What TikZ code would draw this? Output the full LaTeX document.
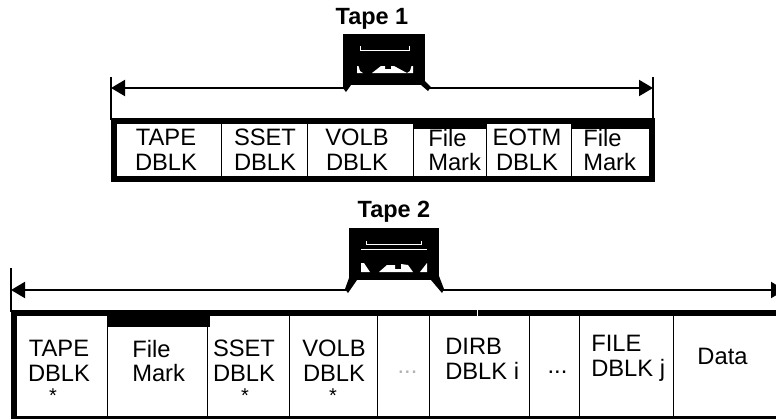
\documentclass[tikz,border=0pt]{standalone}
\usepackage{fontspec}
\setmainfont{Liberation Sans}
\usetikzlibrary{arrows.meta}
\tikzset{
  px/.style={x=0.75pt,y=-0.75pt},
  lab/.style={inner sep=0pt,align=center,font=\fontsize{17.8}{18.5}\selectfont},
  labl/.style={lab,align=left,anchor=west},
  ttl/.style={inner sep=0pt,font=\fontsize{17.6}{18}\selectfont\bfseries},
  star/.style={inner sep=0pt,font=\fontsize{15}{16}\selectfont},
  conn/.style={line width=1.5pt,-{Triangle[width=12pt,length=10.5pt]},shorten >=0pt},
  tick/.style={line width=1.5pt},
  ink/.style={fill=black,draw=none},
  paper/.style={fill=white,draw=none},
  slit/.style={draw=white,line width=0.9pt}
}
\begin{document}
\begin{tikzpicture}[px]
\useasboundingbox (0,0) rectangle (776,419);
\fill[white] (0,0) rectangle (776,419);
% ---------- Tape 1 ----------
\node[ttl] (t1) at (372,19) {Tape 1};
\fill[ink] (343,34) rectangle (425,85);
\fill[ink] (343,83) -- (351,85) -- (346,92) -- (343,88) -- cycle;
\fill[ink] (421,85) -- (425,81) -- (431,87) -- (428,91) -- cycle;
\draw[slit] (360.5,46) -- (360.5,50.5) -- (409.5,50.5) -- (409.5,46);
\fill[paper] (357,66) -- (358.5,66) -- (360,71) -- (363,73) -- (357,73) -- cycle;
\fill[paper] (372,73) -- (381,66) -- (385,66) -- (385,69) -- (391,69) -- (391,66) -- (394,66) -- (407,73) -- cycle;
\fill[paper] (413,66) -- (411.5,66) -- (410,71) -- (407,73) -- (413,73) -- cycle;
\coordinate (a1L) at (111,88);
\coordinate (a1R) at (653,88);
\coordinate (f1L) at (346,88);
\coordinate (f1R) at (428,88);
\draw[tick] (111,77) -- (111,120);
\draw[tick] (653,77) -- (653,120);
\draw[conn] (f1L) -- (a1L);
\draw[conn] (f1R) -- (a1R);
\fill[ink] (111,118) rectangle (655,182);
\fill[paper] (117,124) rectangle (220.5,176);
\fill[paper] (222,124) rectangle (306.5,176);
\fill[paper] (308,124) rectangle (412.5,176);
\fill[paper] (414,124) rectangle (485.5,176);
\fill[paper] (487,124) rectangle (570.5,176);
\fill[paper] (572,124) rectangle (649,176);
\node[lab] (c11) at (166,150) {TAPE\\DBLK};
\node[lab] (c12) at (265,150) {SSET\\DBLK};
\node[lab] (c13) at (357,150) {VOLB\\DBLK};
\node[labl] (c14) at (428,150) {File\\Mark};
\node[lab] (c15) at (527,150) {EOTM\\DBLK};
\node[labl] (c16) at (583,150) {File\\Mark};
\fill[ink] (413,118) rectangle (486,129);
\fill[ink] (571,118) rectangle (655,129);
% ---------- Tape 2 ----------
\node[ttl] (t2) at (394,212) {Tape 2};
\fill[ink] (349,228) rectangle (439,280);
\fill[ink] (349,278) -- (357,280) -- (348,293) -- (345,289) -- cycle;
\fill[ink] (431,280) -- (439,276) -- (444,289) -- (442,293) -- cycle;
\draw[slit] (366.5,241) -- (366.5,244.5) -- (421.5,244.5) -- (421.5,241);
\draw[slit] (361,249.5) -- (427,249.5);
\fill[paper] (361,263) -- (364,263) -- (370,272) -- (361,272) -- cycle;
\fill[paper] (379,272) -- (387,265) -- (395,265) -- (395,269) -- (401,269) -- (401,264) -- (408,265) -- (413,272) -- cycle;
\fill[paper] (427,263) -- (427,272) -- (420,272) -- cycle;
\coordinate (a2L) at (11,290);
\coordinate (a2R) at (785,290);
\coordinate (f2L) at (347,290);
\coordinate (f2R) at (443,290);
\draw[tick] (11,268) -- (11,312);
\draw[conn] (f2L) -- (a2L);
\draw[conn] (f2R) -- (a2R);
\fill[ink] (11,310) rectangle (776,419);
\fill[paper] (17,316) rectangle (106.5,416);
\fill[paper] (108,316) rectangle (206.5,416);
\fill[paper] (208,316) rectangle (288.5,416);
\fill[paper] (290,316) rectangle (376.5,416);
\fill[paper] (378,316) rectangle (428.5,416);
\fill[paper] (430,316) rectangle (528.5,416);
\fill[paper] (530,316) rectangle (578.5,416);
\fill[paper] (580,316) rectangle (672.5,416);
\fill[paper] (674,316) rectangle (776,416);
\fill[paper] (476.5,310) rectangle (478,316);
\fill[ink] (107,310) rectangle (210,327);
\node[lab] (c21) at (59,361) {TAPE\\DBLK};
\node[labl] (c22) at (132,361) {File\\Mark};
\node[lab] (c23) at (244,361) {SSET\\DBLK};
\node[lab] (c24) at (334,361) {VOLB\\DBLK};
\node[lab,text=black!30] (c25) at (407.5,372) {...};
\node[labl] (c26) at (445,358.5) {DIRB\\DBLK i};
\node[lab] (c27) at (557.5,372) {...};
\node[labl] (c28) at (591,358.5) {FILE\\DBLK j};
\node[lab] (c29) at (722.5,356) {Data};
\node[star] (s1) at (53,396) {*};
\node[star] (s2) at (245,396) {*};
\node[star] (s3) at (333,396) {*};
\end{tikzpicture}
\end{document}
